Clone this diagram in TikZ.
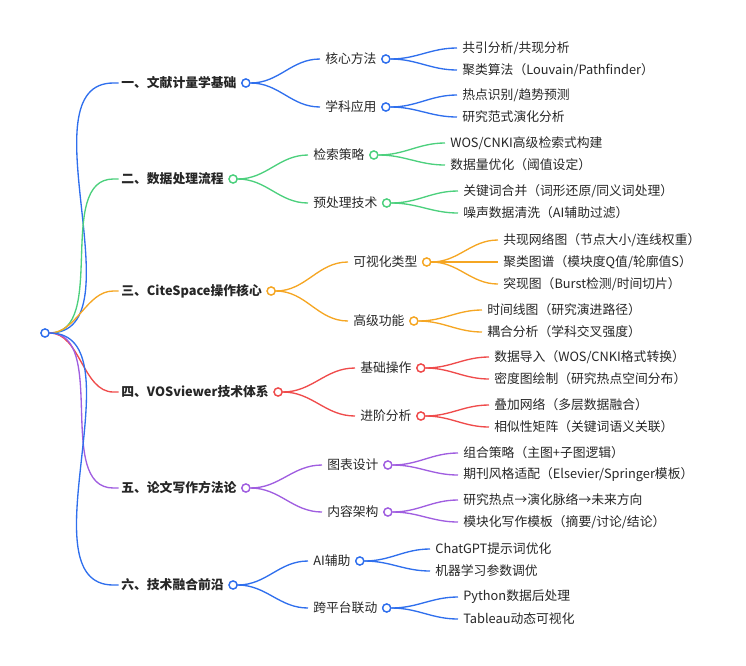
\documentclass[tikz,border=0pt]{standalone}
\usepackage{fontspec}
\setmainfont{Noto Sans CJK SC}
\begin{document}
\begin{tikzpicture}[x=0.75pt,y=-0.75pt,
  txt/.style={anchor=west,inner sep=0pt,outer sep=4pt,font=\fontsize{9.6}{11}\selectfont,text=black!85},
  l1/.style={txt,font=\fontsize{9.6}{11}\selectfont\bfseries},
  dot/.style={circle,draw=#1,fill=white,line width=1pt,minimum size=6pt,inner sep=0pt},
  lk/.style={draw=#1,line width=1pt,out=0,in=180},
]
\definecolor{cb}{HTML}{2F6FED}\definecolor{cg}{HTML}{4CD07D}\definecolor{co}{HTML}{F5A623}
\definecolor{cr}{HTML}{EF4B4B}\definecolor{cp}{HTML}{A05EE0}
\useasboundingbox (0,0) rectangle (746,665);
% level 1
\node[l1] (a) at (116,83) {一、文献计量学基础};
\node[l1] (b) at (116,179) {二、数据处理流程};
\node[l1] (c) at (116,291) {三、CiteSpace操作核心};
\node[l1] (d) at (116,392) {四、VOSviewer技术体系};
\node[l1] (e) at (116,488) {五、论文写作方法论};
\node[l1] (f) at (116,585) {六、技术融合前沿};
% level 2
\node[txt] (a1) at (320,59) {核心方法};
\node[txt] (a2) at (320,107) {学科应用};
\node[txt] (b1) at (308,155) {检索策略};
\node[txt] (b2) at (308,203) {预处理技术};
\node[txt] (c1) at (348,262) {可视化类型};
\node[txt] (c2) at (348,321) {高级功能};
\node[txt] (d1) at (355,368) {基础操作};
\node[txt] (d2) at (355,416) {进阶分析};
\node[txt] (e1) at (322,465) {图表设计};
\node[txt] (e2) at (322,512) {内容架构};
\node[txt] (f1) at (308,561) {AI辅助};
\node[txt] (f2) at (308,608) {跨平台联动};
% level 3
\node[txt] (a11) at (457,48) {共引分析/共现分析};
\node[txt] (a12) at (457,70) {聚类算法（Louvain/Pathfinder）};
\node[txt] (a21) at (457,95) {热点识别/趋势预测};
\node[txt] (a22) at (457,117) {研究范式演化分析};
\node[txt] (b11) at (445,143) {WOS/CNKI高级检索式构建};
\node[txt] (b12) at (445,165) {数据量优化（阈值设定）};
\node[txt] (b21) at (458,191) {关键词合并（词形还原/同义词处理）};
\node[txt] (b22) at (458,213) {噪声数据清洗（AI辅助过滤）};
\node[txt] (c11) at (498,240) {共现网络图（节点大小/连线权重）};
\node[txt] (c12) at (498,262) {聚类图谱（模块度Q值/轮廓值S）};
\node[txt] (c13) at (498,284) {突现图（Burst检测/时间切片）};
\node[txt] (c21) at (482,310) {时间线图（研究演进路径）};
\node[txt] (c22) at (482,332) {耦合分析（学科交叉强度）};
\node[txt] (d11) at (489,357) {数据导入（WOS/CNKI格式转换）};
\node[txt] (d12) at (489,379) {密度图绘制（研究热点空间分布）};
\node[txt] (d21) at (489,405) {叠加网络（多层数据融合）};
\node[txt] (d22) at (489,427) {相似性矩阵（关键词语义关联）};
\node[txt] (e11) at (458,453) {组合策略（主图+子图逻辑）};
\node[txt] (e12) at (458,475) {期刊风格适配（Elsevier/Springer模板）};
\node[txt] (e21) at (458,500) {研究热点→演化脉络→未来方向};
\node[txt] (e22) at (458,522) {模块化写作模板（摘要/讨论/结论）};
\node[txt] (f11) at (430,549) {ChatGPT提示词优化};
\node[txt] (f12) at (430,571) {机器学习参数调优};
\node[txt] (f21) at (458,597) {Python数据后处理};
\node[txt] (f22) at (458,619) {Tableau动态可视化};
% dots
\node[dot=cb] (r) at (45,333) {};
\foreach \n/\c in {a/cb,b/cg,c/co,d/cr,e/cp,f/cb,a1/cb,a2/cb,b1/cg,b2/cg,c1/co,c2/co,d1/cr,d2/cr,e1/cp,e2/cp,f1/cb,f2/cb}
  \node[dot=\c] (\n d) at ([xshift=3pt]\n.east) {};
% links
\begin{scope}[on background layer/.style={}]
\foreach \n/\c in {a/cb,b/cg,c/co,d/cr,e/cp,f/cb}
  \draw[cb,line width=1pt,draw=\c] (r.east) to[out=0,in=180,looseness=0.9] ([xshift=-2pt]\n.west) -- ++(4pt,0) coordinate (\n x);
\foreach \p/\n/\c in {a/a1/cb,a/a2/cb,b/b1/cg,b/b2/cg,c/c1/co,c/c2/co,d/d1/cr,d/d2/cr,e/e1/cp,e/e2/cp,f/f1/cb,f/f2/cb,
  a1/a11/cb,a1/a12/cb,a2/a21/cb,a2/a22/cb,b1/b11/cg,b1/b12/cg,b2/b21/cg,b2/b22/cg,c1/c11/co,c1/c12/co,c1/c13/co,c2/c21/co,c2/c22/co,
  d1/d11/cr,d1/d12/cr,d2/d21/cr,d2/d22/cr,e1/e11/cp,e1/e12/cp,e2/e21/cp,e2/e22/cp,f1/f11/cb,f1/f12/cb,f2/f21/cb,f2/f22/cb}
  \draw[lk=\c] (\p d.east) to (\n.west);
\end{scope}
\foreach \n/\c in {a/cb,b/cg,c/co,d/cr,e/cp,f/cb,a1/cb,a2/cb,b1/cg,b2/cg,c1/co,c2/co,d1/cr,d2/cr,e1/cp,e2/cp,f1/cb,f2/cb}
  \node[dot=\c] at (\n d) {};
\node[dot=cb] at (r) {};
\end{tikzpicture}
\end{document}
